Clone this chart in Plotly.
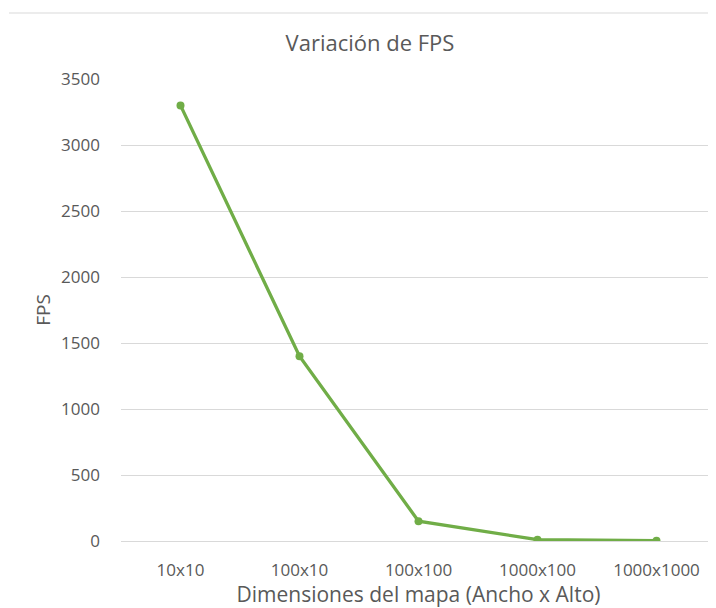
import plotly.graph_objects as go

categories = ["10x10", "100x10", "100x100", "1000x100", "1000x1000"]
fps = [3300, 1400, 150, 10, 2]
y_ticks = [0, 500, 1000, 1500, 2000, 2500, 3000, 3500]

GREEN = "#70AD47"
TXT = "#595959"
FONT = "Open Sans"

fig = go.Figure()
fig.add_trace(go.Scatter(
    x=categories, y=fps, mode="lines+markers",
    line=dict(color=GREEN, width=3.3),
    marker=dict(color=GREEN, size=8),
    showlegend=False, hoverinfo="skip",
))

fig.update_layout(
    width=708, height=600,
    margin=dict(l=113, r=0, t=71, b=67),
    paper_bgcolor="white", plot_bgcolor="white",
    font=dict(family=FONT, color=TXT, size=17),
    title=dict(text="Variación de FPS", x=362/708, xanchor="center",
               y=1 - 35/600, yanchor="middle",
               font=dict(family=FONT, size=22, color=TXT)),
    xaxis=dict(
        type="category", showgrid=False, zeroline=False, showline=False,
        ticks="", tickfont=dict(size=17, color=TXT), ticklabelstandoff=17,
        title=dict(text="Dimensiones del mapa (Ancho x Alto)", standoff=6,
                   font=dict(size=21, color=TXT)),
        range=[-0.5, 4.5],
    ),
    yaxis=dict(
        range=[0, 3500], tickvals=y_ticks, ticktext=[str(v) for v in y_ticks],
        showgrid=True, gridcolor="#D9D9D9", gridwidth=1,
        zeroline=True, zerolinecolor="#D9D9D9", zerolinewidth=1,
        showline=False, ticks="", ticklabelstandoff=20,
        tickfont=dict(size=17, color=TXT),
        title=dict(text="FPS", standoff=5, font=dict(size=19, color=TXT)),
    ),
    shapes=[dict(type="line", xref="paper", yref="paper",
                 x0=-112/595, x1=1, y0=1 + 66/462, y1=1 + 66/462,
                 line=dict(color="#D9D9D9", width=1))],
)

fig.write_html("out.html")
